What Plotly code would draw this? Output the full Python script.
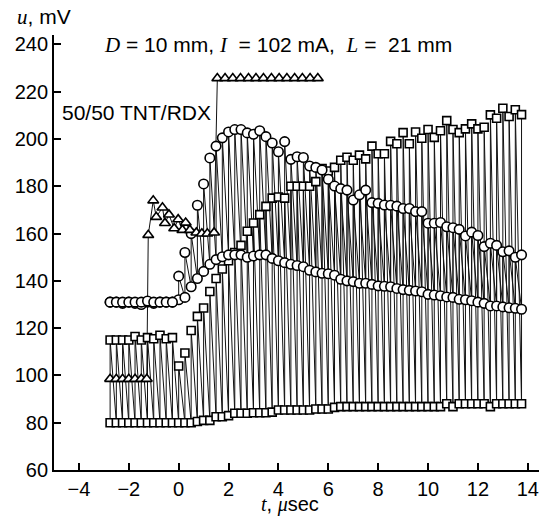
import plotly.graph_objects as go

# ---------------- data ----------------
TIMES = [-2.75, -2.5, -2.25, -2.0, -1.75, -1.5, -1.25, -1.0, -0.75, -0.5,
         -0.25, 0.0, 0.25, 0.5, 0.75, 1.0, 1.25, 1.5, 1.75, 2.0,
         2.25, 2.5, 2.75, 3.0, 3.25, 3.5, 3.75, 4.0, 4.25, 4.5,
         4.75, 5.0, 5.25, 5.5, 5.75, 6.0, 6.25, 6.5, 6.75, 7.0,
         7.25, 7.5, 7.75, 8.0, 8.25, 8.5, 8.75, 9.0, 9.25, 9.5,
         9.75, 10.0, 10.25, 10.5, 10.75, 11.0, 11.25, 11.5, 11.75, 12.0,
         12.25, 12.5, 12.75, 13.0, 13.25, 13.5, 13.75]

SQ_HI = [115, 115, 115, 115, 116.5, 115, 116, 115.5, 117, 115.5,
         116, 104, 109.5, 119, 125, 128.5, 135.5, 141, 145, 148.5,
         152, 155, 161, 164.5, 168, 171.5, 175, 175.5, 175, 180,
         180, 180, 180, 182, 187.5, 186.5, 188, 191, 192.3, 191,
         193.2, 191.6, 197, 193.8, 193.8, 199, 198, 202.7, 198, 203,
         200.3, 204, 200.7, 203.5, 207.8, 204, 202.7, 204.3, 206.4, 204.3,
         205, 210.2, 208.8, 213, 209.5, 212.4, 210.3]

SQ_LO = [80, 80, 80, 80, 80, 80, 80, 80, 80, 80,
         80, 80, 80, 80, 80.5, 81, 81, 82.5, 82.5, 83,
         84, 84, 84, 84.2, 84.2, 84.2, 84.5, 85.4, 85.4, 85.4,
         85.4, 85.4, 85.4, 85.8, 85.8, 85.8, 86.5, 86.8, 86.8, 86.8,
         86.8, 86.8, 86.8, 86.8, 86.8, 86.8, 86.8, 86.8, 86.8, 86.8,
         86.8, 86.8, 86.8, 86.8, 88, 86.8, 88, 88, 88, 88,
         88, 86.8, 88, 88, 88, 88, 88]

CI_HI = [131, 131, 131, 131, 131, 131, 131.5, 131, 131, 131,
         131, 142, 152, 160, 172, 181, 192, 197, 200.5, 203,
         204, 204, 202.6, 202, 203.5, 201, 198.3, 194.6, 198.9, 191.4,
         192.5, 192.2, 188.6, 188, 186.9, 183, 180.1, 179, 178.4, 174.2,
         176.4, 178.4, 173.1, 172.8, 172.1, 172, 171.6, 170.6, 170.6, 169.3,
         169.3, 164.4, 164.4, 164.7, 162.9, 162.5, 161.8, 159, 160.6, 159.2,
         154.5, 155.9, 155, 152.3, 152.7, 150, 151]

CI_LO = [131, 131, 130.5, 131, 130.5, 130, 131, 130.5, 131, 131,
         131, 132, 133, 137.5, 141, 144, 147, 149, 150.2, 151,
         151, 151, 150, 150.5, 151, 151, 149.5, 148.5, 147.7, 147,
         146.5, 146, 144.5, 143.8, 143.2, 143, 142.4, 140.7, 140, 139.7,
         139, 139, 138.5, 137.9, 137.7, 137.5, 136.8, 136.3, 136, 135.7,
         135.4, 134.3, 134, 133.7, 133.2, 133, 132.2, 132, 131.6, 131,
         130.5, 129.4, 129.4, 129, 128.6, 128.4, 128]

TRI_T = [-2.75, -2.5, -2.25, -2.0, -1.75, -1.5, -1.28,
         -1.22, -1.02, -0.9, -0.65, -0.55, -0.39, -0.18, -0.02, 0.15, 0.28, 0.45, 0.71, 0.93, 1.15, 1.42,
         1.55, 1.86, 2.17, 2.48, 2.8, 3.1, 3.4, 3.72, 4.03, 4.34, 4.65, 4.96, 5.27, 5.58]
TRI_U = [98.5, 98.5, 98.5, 98.5, 98.5, 98.5, 98.5,
         159.4, 174, 167, 171, 164.4, 168, 162.2, 166, 161.5, 164.6, 161.5, 160.4, 160, 160, 160.4,
         225.7, 225.7, 225.7, 225.7, 225.7, 225.7, 225.7, 225.7, 225.7, 225.7, 225.7, 225.7, 225.7, 225.7]

X_TICKS = [-4, -2, 0, 2, 4, 6, 8, 10, 12, 14]
Y_TICKS = [60, 80, 100, 120, 140, 160, 180, 200, 220, 240]

SANS = "Liberation Sans, Arial, sans-serif"
SERIF = "Liberation Serif, Times New Roman, serif"


def zigzag(t, lo, hi):
    xs, ys = [], []
    for a, b, c in zip(t, lo, hi):
        xs += [a, a]
        ys += [b, c]
    return xs, ys


fig = go.Figure()

line_style = dict(color="#111111", width=1)
for lo, hi in ((SQ_LO, SQ_HI), (CI_LO, CI_HI)):
    xs, ys = zigzag(TIMES, lo, hi)
    fig.add_trace(go.Scatter(x=xs, y=ys, mode="lines", line=line_style,
                             hoverinfo="skip", showlegend=False))
fig.add_trace(go.Scatter(x=TRI_T, y=TRI_U, mode="lines", line=line_style,
                         hoverinfo="skip", showlegend=False))

mk_line = dict(color="black", width=1.6)
for ys in (SQ_LO, SQ_HI):
    fig.add_trace(go.Scatter(x=TIMES, y=ys, mode="markers",
                             marker=dict(symbol="square", size=8, color="white", line=mk_line),
                             showlegend=False))
for ys in (CI_LO, CI_HI):
    fig.add_trace(go.Scatter(x=TIMES, y=ys, mode="markers",
                             marker=dict(symbol="circle", size=9.5, color="white", line=mk_line),
                             showlegend=False))
fig.add_trace(go.Scatter(x=TRI_T, y=TRI_U, mode="markers",
                         marker=dict(symbol="triangle-up", size=9.5, color="white", line=mk_line),
                         showlegend=False))

ser = lambda s: f"<span style='font-family:{SERIF}'><i>{s}</i></span>"

fig.update_layout(
    width=539, height=509, autosize=False,
    margin=dict(l=46, r=8, t=27, b=47),
    paper_bgcolor="white", plot_bgcolor="white",
    font=dict(family=SANS, size=20, color="black"),
    xaxis=dict(range=[-5, 14.45], tickvals=X_TICKS, ticks="inside", ticklen=7, tickwidth=1.5,
               tickcolor="black", showline=True, linecolor="black", linewidth=1.8,
               showgrid=False, zeroline=False, ticklabelstandoff=0),
    yaxis=dict(range=[60, 244], tickvals=Y_TICKS, ticks="inside", ticklen=7, tickwidth=1.5,
               tickcolor="black", showline=True, linecolor="black", linewidth=1.8,
               showgrid=False, zeroline=False, ticklabelstandoff=0),
    annotations=[
        dict(text=f"{ser('u')}, mV", xref="paper", yref="paper", x=-0.08, y=1.042,
             xanchor="left", yanchor="middle", showarrow=False, font=dict(size=21)),
        dict(text=f"{ser('t')}, {ser('μ')}sec", xref="paper", yref="paper", x=0.487, y=-0.079,
             xanchor="center", yanchor="middle", showarrow=False, font=dict(size=20)),
        dict(text=f"{ser('D')} = 10 mm, {ser('I')}  = 102 mA,  {ser('L')} =  21 mm",
             x=4.0, y=239.8, xref="x", yref="y", showarrow=False,
             xanchor="center", yanchor="middle", font=dict(size=21)),
        dict(text="50/50 TNT/RDX", x=-1.71, y=211.4, xref="x", yref="y", showarrow=False,
             xanchor="center", yanchor="middle", font=dict(size=21)),
    ],
)

fig.write_html("out.html")
